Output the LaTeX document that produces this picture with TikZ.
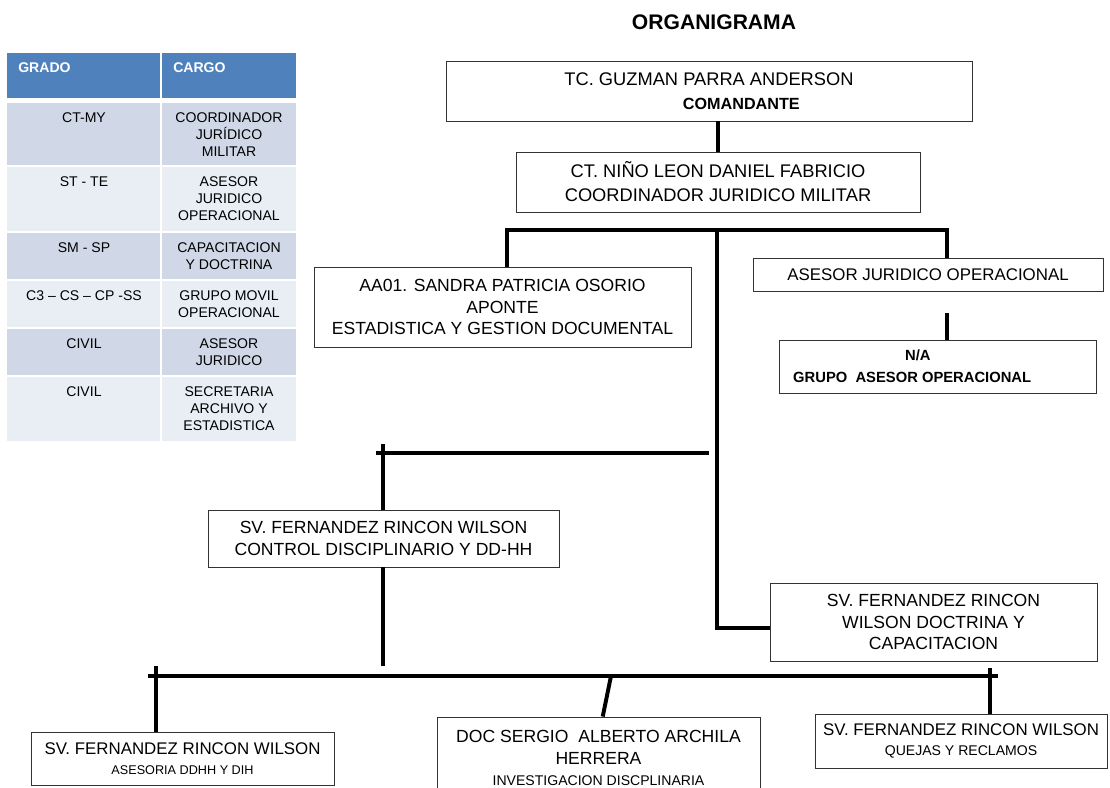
\documentclass[tikz,border=0pt]{standalone}
\usepackage{fontspec}
\setmainfont{Liberation Sans}
\usetikzlibrary{positioning}

\definecolor{hdblue}{HTML}{4F81BD}
\definecolor{rowdark}{HTML}{D0D8E8}
\definecolor{rowlight}{HTML}{E9EDF4}
\newcommand{\sm}{\fontsize{10}{11}\selectfont}

\tikzset{
  box/.style={draw=black!80, line width=0.6pt, align=center, inner sep=0pt,
    font=\fontsize{12.5}{15.5}\selectfont},
  link/.style={line width=2.8pt},
  cell/.style={align=center, anchor=north, inner sep=0pt, font=\fontsize{10}{12.4}\selectfont},
  head/.style={anchor=west, inner sep=0pt, text=white, font=\fontsize{10}{12}\selectfont\bfseries}
}

\begin{document}
\begin{tikzpicture}[x=0.025cm,y=-0.025cm]
   \useasboundingbox (0,0) rectangle (1110,788);
   % table
   \fill[hdblue] (7,53) rectangle (160,98);
   \fill[hdblue] (162,53) rectangle (296,98);
   \foreach \top/\bot/\col in {103/165/rowdark,167/231/rowlight,233/279/rowdark,
                               281/327/rowlight,329/375/rowdark,377/441/rowlight}
   {
      \fill[\col] (7,\top) rectangle (160,\bot);
      \fill[\col] (162,\top) rectangle (296,\bot);
   }
   \node[head] (grado) at (18,68) {GRADO};
   \node[head] (cargo) at (173,68) {CARGO};
   \node[cell] (g1) at (84,112) {CT-MY};
   \node[cell] (c1) at (229,112) {COORDINADOR\\JURÍDICO\\MILITAR};
   \node[cell] (g2) at (84,176) {ST - TE};
   \node[cell] (c2) at (229,176) {ASESOR\\JURIDICO\\OPERACIONAL};
   \node[cell] (g3) at (84,242) {SM - SP};
   \node[cell] (c3) at (229,242) {CAPACITACION\\Y DOCTRINA};
   \node[cell] (g4) at (84,290) {C3 – CS – CP -SS};
   \node[cell] (c4) at (229,290) {GRUPO MOVIL\\OPERACIONAL};
   \node[cell] (g5) at (84,338) {CIVIL};
   \node[cell] (c5) at (229,338) {ASESOR\\JURIDICO};
   \node[cell] (g6) at (84,386) {CIVIL};
   \node[cell] (c6) at (229,386) {SECRETARIA\\ARCHIVO Y\\ESTADISTICA};

   % chart
   \node[font=\fontsize{15}{18}\selectfont\bfseries] (title) at (714,22) {ORGANIGRAMA};
   \node[box, minimum width=13.15cm, minimum height=1.5cm, font=\fontsize{13}{17}\selectfont] (cmd) at (709,91)
        {TC. GUZMAN PARRA ANDERSON\\\hspace*{46pt}{\fontsize{11.5}{17}\selectfont\bfseries COMANDANTE}};
   \node[box, minimum width=10.1cm, minimum height=1.5cm, font=\fontsize{13}{17}\selectfont] (coord) at (718,182)
        {CT. NIÑO LEON DANIEL FABRICIO\\COORDINADOR JURIDICO MILITAR};
   \node[box, minimum width=9.425cm, minimum height=2cm] (stat) at (502.5,307)
        {AA01. SANDRA PATRICIA OSORIO\\APONTE\\ESTADISTICA Y GESTION DOCUMENTAL};
   \node[box, minimum width=8.75cm, minimum height=0.825cm, font=\fontsize{12}{15}\selectfont] (asesor) at (928,274.5)
        {ASESOR JURIDICO OPERACIONAL};
   \node[box, minimum width=7.925cm, minimum height=1.325cm, font=\fontsize{10.5}{15.5}\selectfont\bfseries] (grupo) at (937.5,366.5)
        {N/A\hspace*{28pt}\\GRUPO\ \ ASESOR OPERACIONAL\hspace*{36pt}};
   \node[box, minimum width=8.775cm, minimum height=1.425cm] (control) at (383.5,538.5)
        {SV. FERNANDEZ RINCON WILSON\\CONTROL DISCIPLINARIO Y DD-HH};
   \node[box, minimum width=8.175cm, minimum height=1.95cm] (doctrina) at (933.5,622)
        {SV. FERNANDEZ RINCON\\WILSON DOCTRINA Y\\CAPACITACION};
   \node[box, minimum width=7.575cm, minimum height=1.325cm, font=\fontsize{12}{14}\selectfont] (ddhh) at (182.5,758.5)
        {SV. FERNANDEZ RINCON WILSON\\{\fontsize{9}{11}\selectfont ASESORIA DDHH Y DIH}};
   \node[box, minimum width=8.075cm, minimum height=2.05cm] (invest) at (598.5,758)
        {DOC SERGIO\ \ ALBERTO ARCHILA\\HERRERA\\{\sm INVESTIGACION DISCPLINARIA}};
   \node[box, minimum width=7.3cm, minimum height=1.35cm, font=\fontsize{12}{14}\selectfont] (quejas) at (961,741)
        {SV. FERNANDEZ RINCON WILSON\\{\sm QUEJAS Y RECLAMOS}};

   % junctions
   \coordinate (busL) at (507,230);
   \coordinate (busM) at (717,230);
   \coordinate (busR) at (947,230);
   \coordinate (docIn) at ([yshift=-4pt]doctrina.west);
   \coordinate (gtop) at (947,313);
   \coordinate (midL) at (376,453);
   \coordinate (midR) at (709,453);
   \coordinate (midC) at (383,444);
   \coordinate (lowC) at (383,666);
   \coordinate (lowL) at (148,676);
   \coordinate (lowR) at (998,676);
   \coordinate (ddhhT) at (156,666);
   \coordinate (invT) at (611,676);
   \coordinate (quejT) at (990,668);

   \draw[link] (coord.north) -- (coord.north |- cmd.south);
   \draw[link] (stat.north -| busL) -- (busL) -- (busR) -- (asesor.north -| busR);
   \draw[link] (busM) -- (busM |- docIn) -- (docIn);
   \draw[link] (gtop) -- (gtop |- grupo.north);
   \draw[link] (midL) -- (midR);
   \draw[link] (midC) -- (midC |- control.north);
   \draw[link] (control.south -| lowC) -- (lowC);
   \draw[link] (lowL) -- (lowR);
   \draw[link] (ddhhT) -- (ddhhT |- ddhh.north);
   \draw[link] (invT) -- ([xshift=3pt]invest.north);
   \draw[link] (quejT) -- (quejT |- quejas.north);
\end{tikzpicture}
\end{document}
